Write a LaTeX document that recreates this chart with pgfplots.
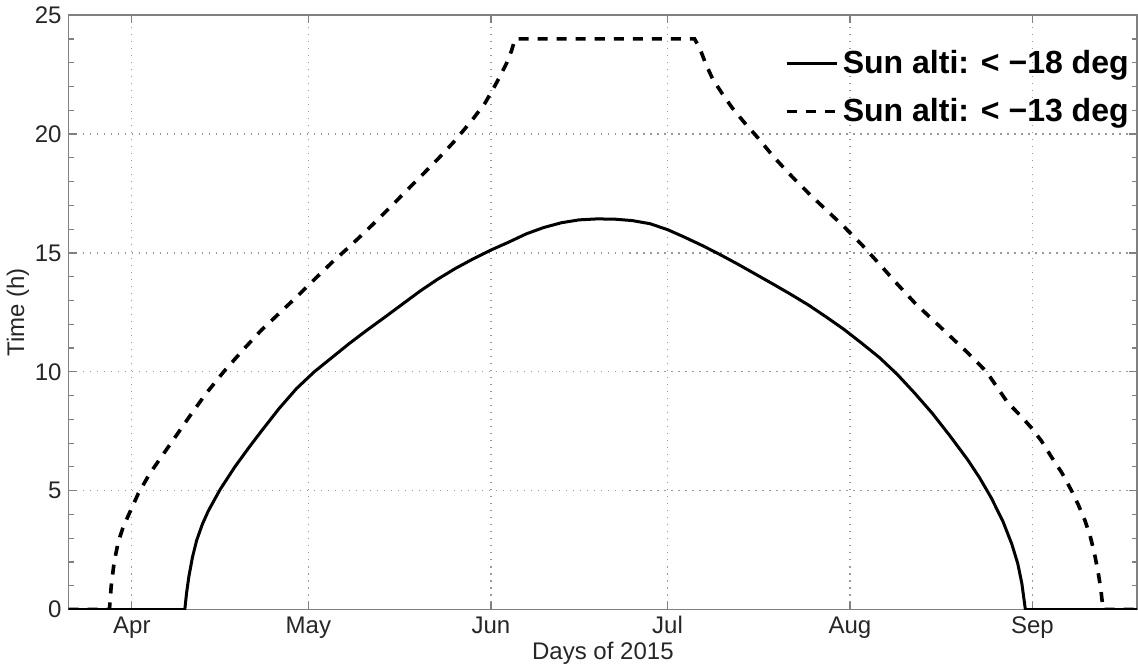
\documentclass[border=0pt]{standalone}
\usepackage{pgfplots}
\pgfplotsset{compat=1.18}
\usepackage{fontspec}
\setmainfont{Liberation Sans}
\begin{document}
\begin{tikzpicture}
\begin{axis}[
 scale only axis, width=534pt, height=297pt,
 xmin=80.25, xmax=261.8, ymin=0, ymax=25,
 xtick={91,121,152,182,213,244},
 xticklabels={Apr,May,Jun,Jul,Aug,Sep},
 ytick={0,5,10,15,20,25},
 minor y tick num=4,
 tick align=inside,
 major tick length=4pt, minor tick length=2.5pt,
 axis line style={black!50, line width=0.8pt},
 every tick/.style={black!50, line width=0.6pt},
 grid=major,
 major grid style={black!40, line width=0.6pt, dash pattern=on 0.8pt off 2.7pt},
 tick label style={font=\fontsize{12}{14}\selectfont, text=black!85},
 /pgf/number format/assume math mode=true,
 xlabel={Days of 2015}, ylabel={Time (h)},
 label style={font=\fontsize{12}{14}\selectfont, text=black!85},
 xlabel style={yshift=5pt},
 ylabel style={yshift=-4pt},
 legend style={draw=none, fill=none, at={(0.998,0.952)}, anchor=north east,
   font=\bfseries\fontsize{16}{19}\selectfont, row sep=7pt, inner sep=1pt},
 legend cell align=left,
 legend image code/.code={\draw[#1] (0pt,0pt) -- (25pt,0pt);},
]
\addplot[black, line width=1.5pt] coordinates {
(80.25,0) (100.0,0) (100.3,0.7) (100.7,1.4) (101.3,2.2) (102.0,2.9) (103.0,3.6)
(104.0,4.15) (106.0,5.05) (108.5,6.0) (111.0,6.85) (113.0,7.5) (116.0,8.45)
(119.0,9.3) (122.0,10.0) (125.0,10.6) (128.0,11.2) (131.0,11.76) (134.0,12.3)
(137.0,12.85) (140.0,13.4) (143.0,13.9) (146.0,14.35) (149.0,14.75) (152.0,15.12)
(155.0,15.45) (158.0,15.8) (161.0,16.07) (164.0,16.27) (167.0,16.39) (170.0,16.43)
(173.0,16.42) (176.0,16.36) (179.0,16.23) (182.0,15.98) (185.0,15.65) (188.0,15.3)
(191.0,14.92) (194.0,14.52) (197.0,14.1) (200.0,13.68) (203.0,13.25) (206.0,12.8)
(209.0,12.3) (212.0,11.78) (215.0,11.2) (218.0,10.6) (221.0,9.9) (224.0,9.1)
(227.0,8.25) (230.0,7.3) (233.0,6.3) (235.0,5.55) (237.0,4.7) (239.0,3.7)
(240.5,2.75) (241.5,1.94) (242.2,1.1) (242.8,0) (261.8,0)
};
\addlegendentry{Sun alti: < −18 deg}
\addplot[black, line width=1.8pt, dash pattern=on 5pt off 4.5pt] coordinates {
(80.25,0) (87.2,0) (87.5,1.0) (88.0,2.0) (88.7,2.85) (89.5,3.45) (90.4,3.95)
(92.1,4.88) (94,5.7) (96.1,6.45) (98.5,7.3) (100.6,8.05) (103.5,9.05) (106.6,10.0)
(110,10.95) (113,11.75) (116,12.45) (119,13.15) (122,13.88) (125,14.6) (128,15.27)
(131,15.97) (134,16.7) (137,17.45) (140,18.2) (143,18.95) (146,19.75) (149,20.65)
(151,21.3) (152.5,21.95) (153.7,22.5) (154.7,23.0) (155.5,23.5) (156.1,24)
(186.6,24) (187.5,23.6) (188.5,22.95) (189.7,22.3) (191.3,21.7) (193,21.1)
(195,20.5) (197.5,19.8) (200,19.05) (203,18.25) (206,17.5) (209,16.8) (212,16.1)
(215,15.35) (218.3,14.45) (221,13.7) (224,12.9) (227,12.2) (230,11.5) (233,10.8)
(236.2,10.0) (238,9.35) (239.8,8.7) (242,8.15) (243.8,7.65) (245.5,7.1)
(247.2,6.43) (249,5.75) (250.6,5.02) (251.8,4.4) (252.9,3.76) (253.8,3.1)
(254.5,2.4) (255.1,1.65) (255.6,0.9) (256,0) (261.8,0)
};
\addlegendentry{Sun alti: < −13 deg}
\end{axis}
\end{tikzpicture}
\end{document}
